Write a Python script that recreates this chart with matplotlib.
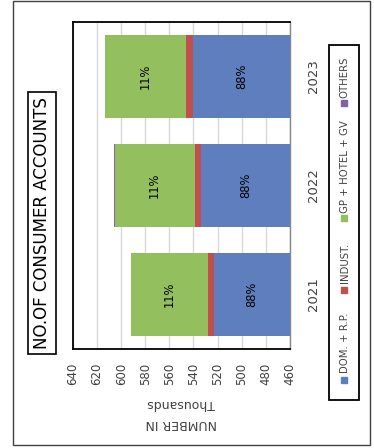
import matplotlib
matplotlib.use("Agg")
import matplotlib.pyplot as plt
from matplotlib.patches import Rectangle

# values in thousands
years = ['2021', '2022', '2023']
dom = [523, 534, 540.5]
indust = [5, 5, 5.5]
gp = [64, 66.5, 67.5]
others = [0.1, 0.1, 0.1]

series_names = ['DOM. + R.P.', 'INDUST.', 'GP + HOTEL + GV', 'OTHERS']
colors = ['#5F7EBD', '#C0504D', '#93BF5E', '#8064A2']

xmin, xmax = 460, 640
ticks = list(range(460, 641, 20))


def main():
    fig = plt.figure(figsize=(3.74, 4.48), dpi=100)
    ax = fig.add_axes([0.195, 0.221, 0.580, 0.730])

    # the whole chart is turned a quarter turn, so columns become bars
    y = list(range(len(years)))
    left = [0] * len(years)
    for vals, col in zip([dom, indust, gp, others], colors):
        ax.barh(y, vals, left=left, height=0.76, color=col, zorder=3,
                linewidth=0)
        left = [l + v for l, v in zip(left, vals)]

    totals = left
    for i in y:
        blue_mid = (xmin + dom[i]) / 2
        ax.text(blue_mid, i, f"{dom[i] / totals[i]:.0%}", rotation=90,
                ha='center', va='center', fontsize=8.3, zorder=4)
        g0 = dom[i] + indust[i]
        ax.text(g0 + gp[i] / 2, i, f"{gp[i] / totals[i]:.0%}", rotation=90,
                ha='center', va='center', fontsize=8.3, zorder=4)

    ax.set_xlim(xmax, xmin)
    ax.set_ylim(-0.5, len(years) - 0.5)
    ax.set_xticks(ticks)
    ax.set_xticklabels([str(t) for t in ticks], rotation=90, fontsize=8.5,
                       color='#404040')
    ax.tick_params(axis='x', length=0, pad=10)
    ax.grid(axis='x', color='#d9d9d9', lw=1, zorder=0)

    ax.yaxis.tick_right()
    ax.set_yticks(y)
    ax.set_yticklabels(years, rotation=90, fontsize=9.5, va='center',
                       color='#404040')
    ax.tick_params(axis='y', length=0, pad=12)

    for side in ['top', 'left', 'bottom']:
        ax.spines[side].set_color('black')
        ax.spines[side].set_linewidth(1.3)
    ax.spines['right'].set_color('#868686')
    ax.spines['right'].set_linewidth(1)

    # axis title (upside down after the turn)
    fig.text(0.485, 1 - 403 / 448, 'Thousands', rotation=180, ha='center',
             va='center', fontsize=9, color='#404040')
    fig.text(0.485, 1 - 423 / 448, 'NUMBER IN', rotation=180, ha='center',
             va='center', fontsize=9, color='#404040')

    # chart title
    fig.text(0.112, 0.503, 'NO.OF CONSUMER ACCOUNTS', rotation=90,
             ha='center', va='center', fontsize=12,
             bbox=dict(boxstyle='square,pad=0.3', fc='white', ec='black',
                       lw=1.2))

    # legend drawn by hand since it is turned too
    fig.patches.append(Rectangle((0.880, 0.107), 0.080, 0.793, fill=False,
                                 ec='black', lw=1.3,
                                 transform=fig.transFigure))
    marker_y = [380, 290, 218, 103]
    text_y = [373, 283, 213, 98]
    for name, col, my, ty in zip(series_names, colors, marker_y, text_y):
        fig.patches.append(Rectangle((0.921 - 0.008, 1 - (my + 3) / 448),
                                     0.016, 6 / 448, color=col,
                                     transform=fig.transFigure))
        fig.text(0.922, 1 - ty / 448, name, rotation=90, ha='center',
                 va='bottom', fontsize=7.3, color='#404040')

    # outer border
    fig.patches.append(Rectangle((13 / 374, 1 - 445 / 448), 357 / 374,
                                 444 / 448, fill=False, ec='#404040', lw=1,
                                 transform=fig.transFigure))

    fig.savefig('out.png', dpi=100)
    plt.close(fig)


if __name__ == "__main__":
    main()
